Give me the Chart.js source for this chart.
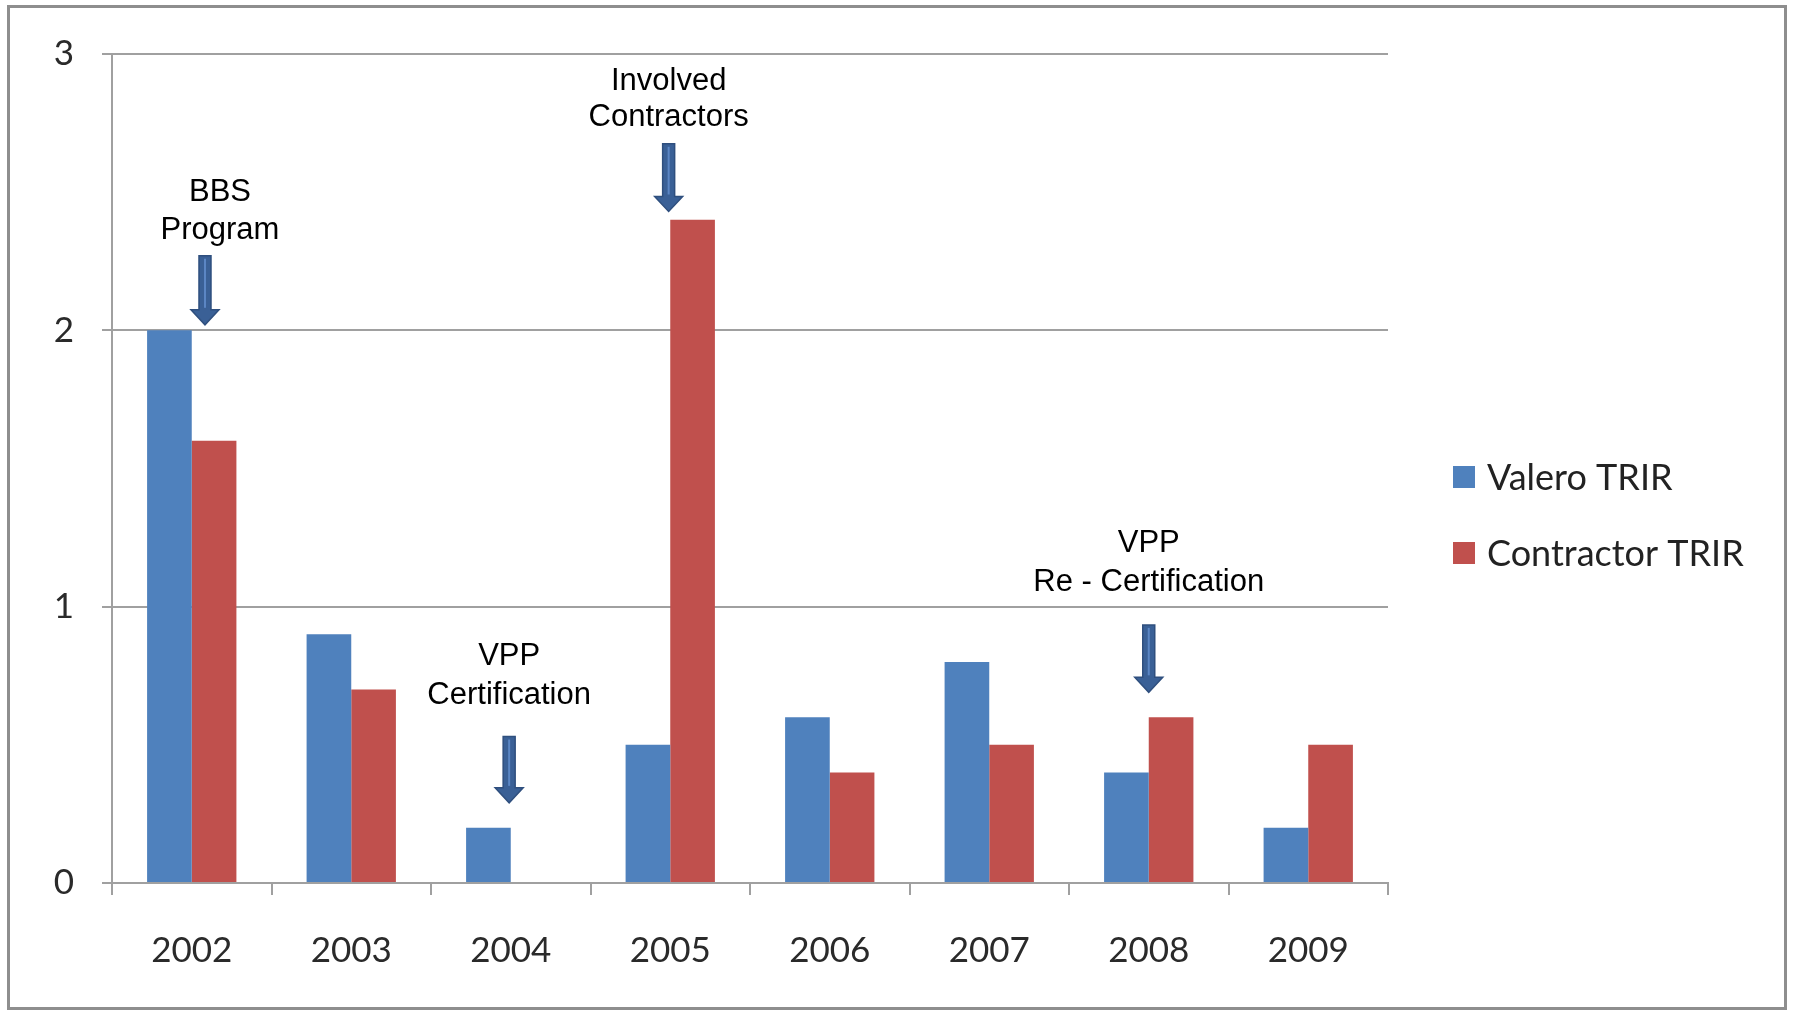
<!DOCTYPE html>
<html>
<head>
<meta charset="utf-8">
<script src="https://cdn.jsdelivr.net/npm/chart.js@4/dist/chart.umd.min.js"></script>
<style>
  html, body { margin: 0; padding: 0; background: #fff; }
  #wrap { position: relative; width: 1794px; height: 1018px; }
  #frame { position: absolute; left: 7px; top: 5px; width: 1780px; height: 1005px; border: 3px solid #8e8e8e; box-sizing: border-box; pointer-events: none; }
</style>
</head>
<body>
<div id="wrap">
  <canvas id="trirChart" width="1794" height="1018"></canvas>
  <div id="frame"></div>
</div>
<script>
// chart data
const years = ["2002", "2003", "2004", "2005", "2006", "2007", "2008", "2009"];
const valeroTrir = [2.0, 0.9, 0.2, 0.5, 0.6, 0.8, 0.4, 0.2];
const contractorTrir = [1.6, 0.7, null, 2.4, 0.4, 0.5, 0.6, 0.5];
const yTicks = [0, 1, 2, 3];
const seriesNames = ["Valero TRIR", "Contractor TRIR"];

// annotation texts (category index + value where arrow points)
const noteTexts = [
    ["BBS", "Program"],
    ["VPP", "Certification"],
    ["Involved", "Contractors"],
    ["VPP", "Re - Certification"]
];
const noteCats = [0, 2, 3, 6];
const noteTips = [2.02, 0.29, 2.43, 0.69];

// placement of the notes (in category widths / axis units)
const noteLayout = [
    { dx: 0.083, tail: 2.27, textDx: [0.177, 0.177], textY: [2.50, 2.36] },
    { dx: -0.01, tail: 0.53, textDx: [-0.01, -0.01], textY: [0.82, 0.68] },
    { dx: -0.01, tail: 2.675, textDx: [-0.01, -0.01], textY: [2.90, 2.77] },
    { dx: 0.0, tail: 0.934, textDx: [0.0, 0.0], textY: [1.23, 1.086] }
];

const BLUE = "#4F81BD";
const RED = "#C0504D";

function drawArrow(ctx, cx, top, tip) {
    const headH = 15, headW = 28, shaftW = 12;
    ctx.save();
    ctx.fillStyle = "#3A6096";
    ctx.strokeStyle = "#2F4F7E";
    ctx.lineWidth = 1.5;
    ctx.beginPath();
    ctx.moveTo(cx - shaftW / 2, top);
    ctx.lineTo(cx + shaftW / 2, top);
    ctx.lineTo(cx + shaftW / 2, tip - headH);
    ctx.lineTo(cx + headW / 2, tip - headH);
    ctx.lineTo(cx, tip);
    ctx.lineTo(cx - headW / 2, tip - headH);
    ctx.lineTo(cx - shaftW / 2, tip - headH);
    ctx.closePath();
    ctx.fill();
    ctx.stroke();
    // light stripe in the shaft
    ctx.strokeStyle = "#5b86c4";
    ctx.lineWidth = 2;
    ctx.beginPath();
    ctx.moveTo(cx, top + 3);
    ctx.lineTo(cx, tip - headH - 2);
    ctx.stroke();
    ctx.restore();
}

const notesPlugin = {
    id: "notes",
    afterDatasetsDraw(chart) {
        const { ctx, scales: { x, y } } = chart;
        const catW = x.width / years.length;
        noteTexts.forEach((lines, i) => {
            const lay = noteLayout[i];
            const center = x.getPixelForValue(noteCats[i]);
            const ax = center + lay.dx * catW;
            drawArrow(ctx, ax, y.getPixelForValue(lay.tail), y.getPixelForValue(noteTips[i]));
            ctx.save();
            ctx.font = '31px "Liberation Sans", Arial, sans-serif';
            ctx.fillStyle = "#000";
            ctx.textAlign = "center";
            ctx.textBaseline = "middle";
            lines.forEach((t, j) => {
                ctx.fillText(t, center + lay.textDx[j] * catW, y.getPixelForValue(lay.textY[j]));
            });
            ctx.restore();
        });
    },
    afterDraw(chart) {
        // legend on the right
        const ctx = chart.ctx;
        const colors = [BLUE, RED];
        ctx.save();
        ctx.font = '36px Lato, "Open Sans", sans-serif';
        ctx.textBaseline = "middle";
        ctx.textAlign = "left";
        seriesNames.forEach((name, i) => {
            const cy = 477 + i * 76;
            ctx.fillStyle = colors[i];
            ctx.fillRect(1453, cy - 11, 22, 22);
            ctx.fillStyle = "#222";
            ctx.fillText(name, 1487, cy + 1);
        });
        ctx.restore();
    }
};

new Chart(document.getElementById("trirChart"), {
    type: "bar",
    data: {
        labels: years,
        datasets: [
            { label: seriesNames[0], data: valeroTrir, backgroundColor: BLUE },
            { label: seriesNames[1], data: contractorTrir, backgroundColor: RED }
        ]
    },
    options: {
        responsive: false,
        animation: false,
        devicePixelRatio: 1,
        categoryPercentage: 0.56,
        barPercentage: 1.0,
        layout: { padding: { top: 54, right: 406, left: 0, bottom: 0 } },
        plugins: {
            legend: { display: false },
            tooltip: { enabled: false }
        },
        scales: {
            x: {
                grid: { offset: true, drawOnChartArea: false, drawTicks: true, tickLength: 12, color: "#a0a0a0", lineWidth: 2 },
                border: { color: "#a0a0a0", width: 2 },
                ticks: { color: "#2a2a2a", padding: 35, font: { family: "Lato", size: 35 } },
                afterFit(scale) { scale.height = 135; }
            },
            y: {
                min: 0,
                max: 3,
                afterBuildTicks(scale) { scale.ticks = yTicks.map(v => ({ value: v })); },
                grid: { color: "#a0a0a0", lineWidth: 2, tickLength: 10 },
                border: { color: "#a0a0a0", width: 2 },
                ticks: { color: "#2a2a2a", padding: 28, font: { family: "Lato", size: 35 } },
                afterFit(scale) { scale.width = 112; }
            }
        }
    },
    plugins: [notesPlugin]
});
</script>
</body>
</html>
